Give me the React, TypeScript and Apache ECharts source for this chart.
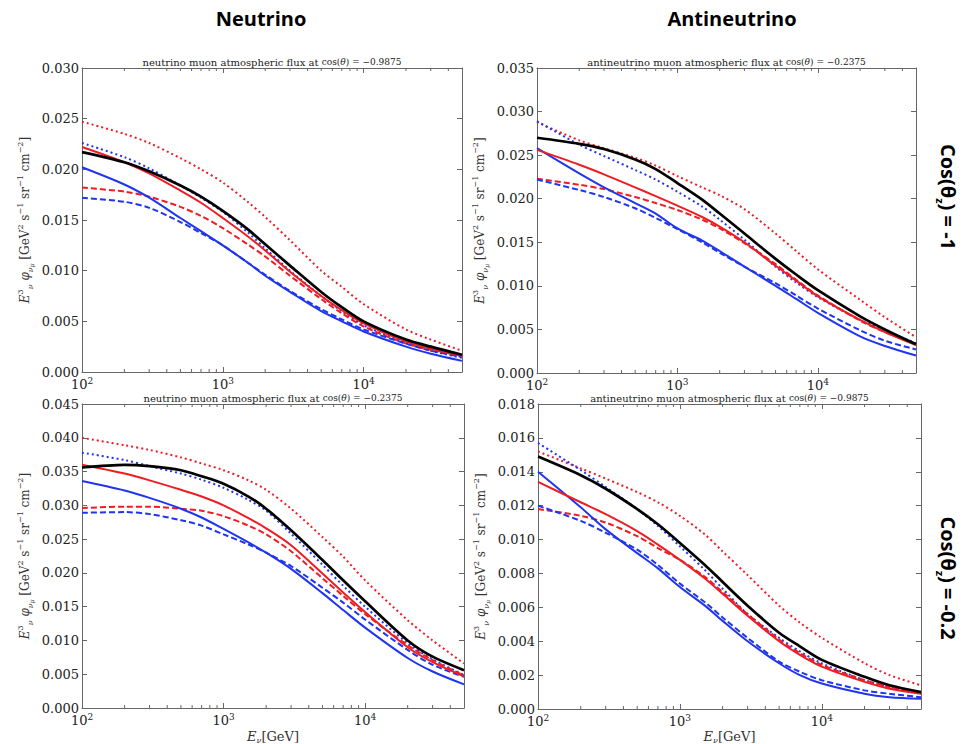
import React, { useEffect, useRef } from "react";
import * as echarts from "echarts";

// ---------- data ----------
const energies = [100, 200, 300, 500, 700, 1000, 1500, 2000, 3000, 5000, 7000, 10000, 20000, 30000, 50000];
const minorTickValues = [200, 300, 400, 500, 600, 700, 800, 900, 2000, 3000, 4000, 5000, 6000, 7000, 8000, 9000, 20000, 30000, 40000];

// neutrino, cos(theta) = -0.9875
const nuVertBlack = [0.0217, 0.0207, 0.0198, 0.0184, 0.0173, 0.0159, 0.0141, 0.0126, 0.0105, 0.0079, 0.0064, 0.0050, 0.0032, 0.0025, 0.0017];
const nuVertRed = [0.0222, 0.0207, 0.0196, 0.0179, 0.0167, 0.0152, 0.0134, 0.0120, 0.0099, 0.0075, 0.0061, 0.0048, 0.0030, 0.0023, 0.0016];
const nuVertRedDash = [0.0182, 0.0178, 0.0173, 0.0163, 0.0154, 0.0142, 0.0126, 0.0114, 0.0095, 0.0072, 0.0058, 0.0045, 0.0028, 0.0022, 0.0016];
const nuVertRedDot = [0.0247, 0.0235, 0.0226, 0.0211, 0.0200, 0.0187, 0.0168, 0.0153, 0.0130, 0.0100, 0.0084, 0.0067, 0.0042, 0.0032, 0.0021];
const nuVertBlueDot = [0.0226, 0.0212, 0.0201, 0.0184, 0.0172, 0.0158, 0.0138, 0.0122, 0.0100, 0.0075, 0.0060, 0.0046, 0.0029, 0.0021, 0.0014];
const nuVertBlue = [0.0202, 0.0185, 0.0172, 0.0152, 0.0139, 0.0125, 0.0108, 0.0095, 0.0079, 0.0060, 0.0050, 0.0040, 0.0025, 0.0018, 0.0011];
const nuVertBlueDash = [0.0172, 0.0168, 0.0162, 0.0148, 0.0137, 0.0125, 0.0108, 0.0096, 0.0080, 0.0062, 0.0052, 0.0042, 0.0028, 0.0021, 0.0015];

// antineutrino, cos(theta) = -0.2375
const antiHorBlack = [0.0270, 0.0263, 0.0257, 0.0245, 0.0234, 0.0218, 0.0199, 0.0183, 0.0160, 0.0131, 0.0113, 0.0095, 0.0065, 0.0050, 0.0033];
const antiHorRed = [0.0256, 0.0239, 0.0228, 0.0213, 0.0203, 0.0192, 0.0179, 0.0168, 0.0150, 0.0123, 0.0106, 0.0088, 0.0061, 0.0047, 0.0032];
const antiHorRedDash = [0.0223, 0.0216, 0.0211, 0.0202, 0.0195, 0.0187, 0.0176, 0.0166, 0.0149, 0.0125, 0.0107, 0.0089, 0.0060, 0.0047, 0.0033];
const antiHorRedDot = [0.0288, 0.0267, 0.0258, 0.0247, 0.0238, 0.0226, 0.0213, 0.0204, 0.0188, 0.0160, 0.0140, 0.0119, 0.0084, 0.0064, 0.0041];
const antiHorBlueDot = [0.0289, 0.0262, 0.0249, 0.0233, 0.0222, 0.0208, 0.0191, 0.0176, 0.0153, 0.0122, 0.0104, 0.0087, 0.0061, 0.0049, 0.0034];
const antiHorBlue = [0.0258, 0.0229, 0.0213, 0.0195, 0.0183, 0.0166, 0.0152, 0.0140, 0.0122, 0.0100, 0.0085, 0.0069, 0.0042, 0.0031, 0.0020];
const antiHorBlueDash = [0.0222, 0.0210, 0.0202, 0.0189, 0.0178, 0.0165, 0.0150, 0.0138, 0.0122, 0.0103, 0.0089, 0.0074, 0.0049, 0.0037, 0.0027];

// neutrino, cos(theta) = -0.2375
const nuHorBlack = [0.0356, 0.0360, 0.0358, 0.0352, 0.0343, 0.0332, 0.0313, 0.0295, 0.0263, 0.0219, 0.0189, 0.0158, 0.0100, 0.0076, 0.0056];
const nuHorRed = [0.0360, 0.0347, 0.0337, 0.0323, 0.0313, 0.0300, 0.0281, 0.0266, 0.0241, 0.0199, 0.0171, 0.0142, 0.0090, 0.0068, 0.0047];
const nuHorRedDash = [0.0296, 0.0298, 0.0298, 0.0295, 0.0292, 0.0284, 0.0270, 0.0257, 0.0232, 0.0192, 0.0166, 0.0139, 0.0093, 0.0071, 0.0048];
const nuHorRedDot = [0.0400, 0.0389, 0.0382, 0.0371, 0.0362, 0.0352, 0.0337, 0.0323, 0.0295, 0.0253, 0.0224, 0.0189, 0.0130, 0.0100, 0.0066];
const nuHorBlueDot = [0.0378, 0.0367, 0.0358, 0.0347, 0.0338, 0.0326, 0.0308, 0.0292, 0.0258, 0.0212, 0.0181, 0.0150, 0.0096, 0.0072, 0.0049];
const nuHorBlue = [0.0336, 0.0322, 0.0311, 0.0295, 0.0282, 0.0265, 0.0245, 0.0230, 0.0206, 0.0170, 0.0145, 0.0119, 0.0074, 0.0054, 0.0035];
const nuHorBlueDash = [0.0289, 0.0290, 0.0287, 0.0278, 0.0270, 0.0257, 0.0242, 0.0230, 0.0210, 0.0178, 0.0156, 0.0131, 0.0086, 0.0064, 0.0046];

// antineutrino, cos(theta) = -0.9875
const antiVertBlack = [0.0149, 0.0138, 0.0130, 0.0118, 0.0109, 0.0098, 0.0085, 0.0075, 0.0061, 0.0045, 0.0037, 0.0029, 0.0019, 0.0014, 0.0010];
const antiVertRed = [0.0134, 0.0122, 0.0115, 0.0105, 0.0097, 0.0088, 0.0077, 0.0068, 0.0055, 0.0040, 0.0032, 0.0025, 0.0016, 0.0012, 0.0009];
const antiVertRedDash = [0.0118, 0.0114, 0.0110, 0.0102, 0.0095, 0.0088, 0.0078, 0.0069, 0.0056, 0.0041, 0.0033, 0.0026, 0.0017, 0.0013, 0.0009];
const antiVertRedDot = [0.0152, 0.0142, 0.0136, 0.0128, 0.0122, 0.0114, 0.0103, 0.0093, 0.0079, 0.0061, 0.0051, 0.0042, 0.0027, 0.0020, 0.0014];
const antiVertBlueDot = [0.0157, 0.0141, 0.0131, 0.0118, 0.0108, 0.0096, 0.0082, 0.0071, 0.0056, 0.0042, 0.0034, 0.0027, 0.0017, 0.0013, 0.0009];
const antiVertBlue = [0.0140, 0.0119, 0.0106, 0.0092, 0.0083, 0.0072, 0.0061, 0.0052, 0.0040, 0.0027, 0.0020, 0.0015, 0.0009, 0.0007, 0.0006];
const antiVertBlueDash = [0.0120, 0.0111, 0.0104, 0.0094, 0.0085, 0.0074, 0.0063, 0.0054, 0.0042, 0.0028, 0.0022, 0.0017, 0.0011, 0.0009, 0.0007];

const columnTitles = ["Neutrino", "Antineutrino"];
const rowTitles = ["-1", "-0.2"];

const panelData = [
  { particle: "neutrino", cosValue: "\u22120.9875", yMax: 0.03, yStep: 0.005,
    lines: [nuVertRedDot, nuVertBlueDot, nuVertRedDash, nuVertBlueDash, nuVertBlue, nuVertRed, nuVertBlack] },
  { particle: "antineutrino", cosValue: "\u22120.2375", yMax: 0.035, yStep: 0.005,
    lines: [antiHorRedDot, antiHorBlueDot, antiHorRedDash, antiHorBlueDash, antiHorBlue, antiHorRed, antiHorBlack] },
  { particle: "neutrino", cosValue: "\u22120.2375", yMax: 0.045, yStep: 0.005,
    lines: [nuHorRedDot, nuHorBlueDot, nuHorRedDash, nuHorBlueDash, nuHorBlue, nuHorRed, nuHorBlack] },
  { particle: "antineutrino", cosValue: "\u22120.9875", yMax: 0.018, yStep: 0.002,
    lines: [antiVertRedDot, antiVertBlueDot, antiVertRedDash, antiVertBlueDash, antiVertBlue, antiVertRed, antiVertBlack] },
];

// ---------- styles / layout ----------
const RED = "#ee1d23";
const BLUE = "#1f35ee";
const BLACK = "#000000";
const AX = "#666666";
const SERIF = "DejaVu Serif";
const SANS = "Open Sans";

const lineStyles = [
  { color: RED, width: 2, type: [2, 3] },
  { color: BLUE, width: 2, type: [2, 3] },
  { color: RED, width: 2, type: [6, 3] },
  { color: BLUE, width: 2, type: [6, 3] },
  { color: BLUE, width: 2, type: "solid" },
  { color: RED, width: 2, type: "solid" },
  { color: BLACK, width: 2.7, type: "solid" },
];

const grids = [
  { left: 82, top: 68, width: 380, height: 304 },
  { left: 537, top: 68, width: 379, height: 305 },
  { left: 82, top: 404, width: 382, height: 304 },
  { left: 538, top: 404, width: 383, height: 305 },
];

function buildOption() {
  const xAxis: any[] = [];
  const yAxis: any[] = [];
  const series: any[] = [];
  const graphic: any[] = [];

  const axisLine = { show: true, onZero: false, lineStyle: { color: AX, width: 1 } };
  const axisTick = { show: true, inside: true, length: 5, lineStyle: { color: AX, width: 1 } };

  panelData.forEach((p, i) => {
    const g = grids[i];
    xAxis.push({
      type: "log", logBase: 10, gridIndex: i, min: 100, max: 50000, position: "bottom",
      axisLine, axisTick, splitLine: { show: false }, minorTick: { show: false },
      axisLabel: {
        margin: 4,
        color: "#222",
        formatter: (v: number) => {
          const e = Math.log10(v);
          if (Math.abs(e - Math.round(e)) > 1e-6) return "";
          return `{b|10}{s|${Math.round(e)}}`;
        },
        rich: {
          b: { fontFamily: SERIF, fontSize: 13, lineHeight: 17, color: "#222" },
          s: { fontFamily: SERIF, fontSize: 9, lineHeight: 9, verticalAlign: "top", color: "#222" },
        },
      },
    });
    xAxis.push({
      type: "log", logBase: 10, gridIndex: i, min: 100, max: 50000, position: "top",
      axisLine, axisTick, axisLabel: { show: false }, splitLine: { show: false },
    });
    yAxis.push({
      type: "value", gridIndex: i, min: 0, max: p.yMax, interval: p.yStep, position: "left",
      axisLine, axisTick, splitLine: { show: false },
      axisLabel: {
        margin: 3, fontFamily: SERIF, fontSize: 13, color: "#222",
        formatter: (v: number) => v.toFixed(3),
      },
    });
    yAxis.push({
      type: "value", gridIndex: i, min: 0, max: p.yMax, interval: p.yStep, position: "right",
      axisLine, axisTick, splitLine: { show: false }, axisLabel: { show: false },
    });

    p.lines.forEach((vals, k) => {
      const st = lineStyles[k];
      series.push({
        type: "line",
        xAxisIndex: 2 * i,
        yAxisIndex: 2 * i,
        data: energies.map((e, j) => [e, vals[j]]),
        showSymbol: false,
        smooth: 0.3,
        lineStyle: { color: st.color, width: st.width, type: st.type, cap: "butt" },
        z: 2 + k,
      });
    });

    const yMax = p.yMax;
    series.push({
      type: "custom",
      xAxisIndex: 2 * i,
      yAxisIndex: 2 * i,
      silent: true,
      clip: false,
      z: 20,
      data: minorTickValues.map((v) => [v, 0]),
      renderItem: (params: any, api: any) => {
        const v = api.value(0);
        const b = api.coord([v, 0]);
        const t = api.coord([v, yMax]);
        return {
          type: "group",
          children: [
            { type: "line", shape: { x1: b[0], y1: b[1], x2: b[0], y2: b[1] - 3 }, style: { stroke: AX, lineWidth: 1 } },
            { type: "line", shape: { x1: t[0], y1: t[1], x2: t[0], y2: t[1] + 3 }, style: { stroke: AX, lineWidth: 1 } },
          ],
        };
      },
    });

    // panel title
    graphic.push({
      type: "text",
      x: g.left + g.width / 2,
      y: g.top - 6,
      style: {
        text: `{t|${p.particle} muon atmospheric flux at }{m|cos(}{mi|\u03b8}{m|) = ${p.cosValue}}`,
        align: "center",
        verticalAlign: "middle",
        rich: {
          t: { fontFamily: SERIF, fontSize: 10, fill: "#222" },
          m: { fontFamily: SERIF, fontSize: 9, fill: "#222" },
          mi: { fontFamily: SERIF, fontSize: 9, fontStyle: "italic", fill: "#222" },
        },
      },
    });

    // y-axis name
    graphic.push({
      type: "text",
      x: g.left - 57,
      y: g.top + g.height / 2,
      rotation: Math.PI / 2,
      style: {
        text: "{i|E}{sup|3}{sub|\u03bd}{n| }{i|\u03c6}{sub|\u03bd}{ss|\u03bc}{n| [GeV}{sup|2}{n| s}{sup|\u22121}{n| sr}{sup|\u22121}{n| cm}{sup|\u22122}{n|]}",
        align: "center",
        verticalAlign: "middle",
        rich: {
          n: { fontFamily: SERIF, fontSize: 12, lineHeight: 18, fill: "#333" },
          i: { fontFamily: SERIF, fontSize: 12, lineHeight: 18, fontStyle: "italic", fill: "#333" },
          sup: { fontFamily: SERIF, fontSize: 8, lineHeight: 8, verticalAlign: "top", fill: "#333" },
          sub: { fontFamily: SERIF, fontSize: 8, lineHeight: 8, verticalAlign: "bottom", fontStyle: "italic", fill: "#333" },
          ss: { fontFamily: SERIF, fontSize: 6, lineHeight: 4, verticalAlign: "bottom", fontStyle: "italic", fill: "#333" },
        },
      },
    });

    // x-axis name on bottom row
    if (i >= 2) {
      graphic.push({
        type: "text",
        x: g.left + g.width / 2,
        y: 736,
        style: {
          text: "{i|E}{sub|\u03bd}{n|[GeV]}",
          align: "center",
          verticalAlign: "middle",
          rich: {
            n: { fontFamily: SERIF, fontSize: 13, lineHeight: 16, fill: "#333" },
            i: { fontFamily: SERIF, fontSize: 13, lineHeight: 16, fontStyle: "italic", fill: "#333" },
            sub: { fontFamily: SERIF, fontSize: 8, lineHeight: 8, verticalAlign: "bottom", fontStyle: "italic", fill: "#333" },
          },
        },
      });
    }
  });

  // column headers
  [261, 732].forEach((x, k) => {
    graphic.push({
      type: "text", x, y: 18,
      style: { text: columnTitles[k], align: "center", verticalAlign: "middle", fontFamily: SANS, fontWeight: "bold", fontSize: 20, fill: "#000" },
    });
  });

  // row labels (rotated)
  [197, 578].forEach((y, k) => {
    graphic.push({
      type: "text", x: 948, y, rotation: -Math.PI / 2,
      style: {
        text: `{b|Cos(\u03b8}{z|z}{b|) = ${rowTitles[k]}}`,
        align: "center",
        verticalAlign: "middle",
        rich: {
          b: { fontFamily: SANS, fontWeight: "bold", fontSize: 20, lineHeight: 26, fill: "#000" },
          z: { fontFamily: SANS, fontWeight: "bold", fontSize: 11, lineHeight: 11, verticalAlign: "bottom", fill: "#000" },
        },
      },
    });
  });

  return {
    animation: false,
    backgroundColor: "#ffffff",
    textStyle: { fontFamily: SERIF },
    grid: grids.map((g) => ({ ...g, containLabel: false })),
    xAxis,
    yAxis,
    series,
    graphic,
  };
}

export default function App() {
  const ref = useRef<HTMLDivElement>(null);
  useEffect(() => {
    if (!ref.current) return;
    const chart = echarts.init(ref.current, null, { renderer: "svg" });
    chart.setOption(buildOption() as any);
    return () => chart.dispose();
  }, []);
  return (
    <div
      ref={ref}
      style={{ position: "absolute", left: 0, top: 0, width: 972, height: 744, background: "#fff" }}
    />
  );
}
